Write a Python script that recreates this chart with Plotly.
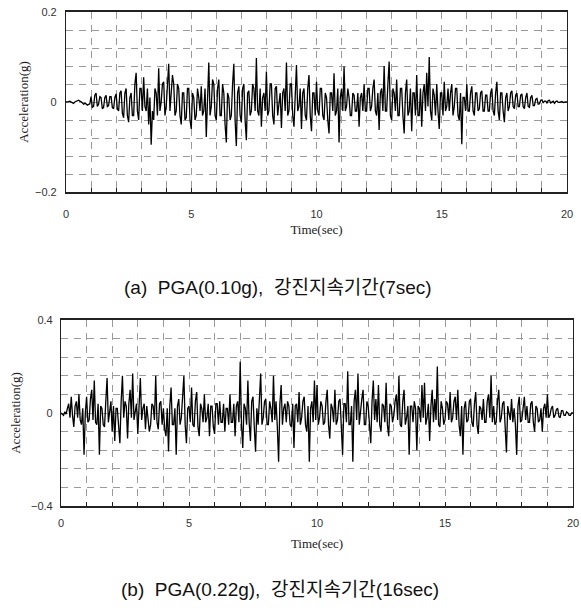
import plotly.graph_objects as go

# time axis (sec), 0.05 s step
time_a = [round(i * 0.05, 2) for i in range(401)]
time_b = [round(i * 0.05, 2) for i in range(401)]

# (a) PGA 0.10g, strong-motion duration 7 sec (g), one row per second
accel_a = [
    0.0, 0.0, 0.001, 0.002, 0.0, -0.002, -0.003, 0.0, 0.002, 0.004, 0.004, 0.002, 0.001, -0.002, -0.005, -0.003, -0.004, -0.007, -0.006, -0.004,
    0.012, -0.012, -0.01, 0.015, 0.02, -0.01, -0.005, 0.012, 0.01, -0.015, -0.012, 0.01, 0.015, -0.01, -0.008, 0.012, 0.012, -0.012, -0.015, 0.01,
    0.018, -0.015, -0.02, 0.02, 0.025, -0.025, -0.035, 0.02, 0.03, -0.03, -0.045, 0.01, 0.02, -0.03, -0.03, 0.04, 0.065, -0.02, -0.04, 0.03,
    0.03, -0.02, 0.055, -0.01, -0.02, 0.03, -0.05, 0.01, -0.095, -0.02, -0.04, 0.03, 0.02, -0.03, 0.075, -0.02, 0.0, 0.04, 0.045, -0.03,
    -0.01, 0.05, 0.085, -0.02, 0.02, 0.06, 0.04, -0.03, -0.02, 0.04, 0.03, -0.03, -0.05, 0.02, 0.02, -0.04, -0.035, 0.03, 0.03, -0.04,
    -0.06, 0.02, 0.01, -0.04, -0.03, 0.03, 0.01, -0.02, 0.035, -0.03, -0.02, 0.03, -0.078, 0.02, 0.088, -0.03, -0.01, 0.05, 0.04, -0.03,
    -0.04, 0.03, 0.05, -0.03, -0.03, 0.04, 0.02, -0.05, -0.09, 0.02, 0.01, -0.04, -0.03, 0.04, 0.085, -0.04, -0.098, 0.02, 0.035, -0.03,
    -0.045, 0.03, 0.04, -0.04, -0.085, 0.02, 0.025, -0.03, -0.02, 0.04, 0.03, -0.02, 0.098, -0.02, -0.03, 0.03, -0.055, 0.01, 0.02, -0.02,
    0.068, -0.03, -0.02, 0.04, 0.04, -0.03, -0.05, 0.03, 0.035, -0.03, -0.01, 0.02, -0.058, 0.02, 0.03, -0.02, 0.088, -0.03, -0.02, 0.04,
    0.04, -0.03, -0.055, 0.03, 0.082, -0.02, -0.01, 0.03, -0.06, 0.02, 0.03, -0.03, -0.04, 0.03, 0.06, -0.03, -0.065, 0.02, 0.02, -0.03,
    0.045, -0.02, -0.03, 0.03, 0.03, -0.03, -0.04, 0.02, 0.01, -0.04, -0.07, 0.02, 0.02, -0.02, 0.064, -0.03, -0.02, 0.03, -0.09, 0.01,
    0.03, -0.02, 0.079, -0.02, -0.01, 0.03, 0.01, -0.03, -0.03, 0.02, 0.015, -0.02, -0.02, 0.02, -0.055, 0.01, 0.02, -0.02, 0.04, -0.02,
    -0.02, 0.03, 0.03, -0.02, -0.01, 0.03, 0.05, -0.02, -0.03, 0.02, -0.062, 0.02, 0.03, -0.02, 0.08, -0.02, -0.02, 0.04, 0.09, -0.03,
    -0.04, 0.03, 0.02, -0.02, 0.05, -0.03, -0.03, 0.03, 0.03, -0.03, -0.07, 0.02, 0.05, -0.03, -0.02, 0.03, -0.065, 0.02, 0.02, -0.03,
    0.06, -0.03, -0.03, 0.03, -0.055, 0.02, 0.04, -0.02, 0.065, -0.01, 0.1, -0.02, -0.04, 0.03, 0.015, -0.03, 0.04, -0.02, -0.06, 0.02,
    0.02, -0.03, 0.045, -0.02, -0.01, 0.03, -0.02, 0.02, 0.04, -0.03, -0.01, 0.03, 0.03, -0.03, -0.04, 0.02, -0.094, 0.01, 0.01, -0.02,
    0.04, -0.02, -0.02, 0.02, 0.035, -0.02, -0.03, 0.02, 0.02, -0.02, -0.015, 0.02, 0.025, -0.02, -0.02, 0.015, 0.015, -0.02, -0.02, 0.02,
    0.03, -0.02, -0.03, 0.02, 0.045, -0.02, -0.04, 0.02, 0.02, -0.02, -0.045, 0.01, 0.02, -0.02, -0.01, 0.02, 0.025, -0.01, -0.015, 0.015,
    0.02, -0.01, -0.01, 0.015, 0.018, -0.01, -0.015, 0.01, 0.02, -0.01, -0.012, 0.01, 0.015, -0.008, -0.008, 0.006, 0.008, -0.005, -0.004, 0.004,
    0.005, -0.002, 0.002, 0.002, -0.002, 0.003, 0.004, -0.002, 0.0, 0.002, -0.003, 0.001, 0.002, -0.001, -0.001, 0.001, 0.001, -0.001, 0.0, 0.0,
    0.0,
]

# (b) PGA 0.22g, strong-motion duration 16 sec (g), one row per second
accel_b = [
    0.0, -0.005, -0.01, 0.005, -0.005, 0.02, 0.04, -0.02, 0.07, -0.01, -0.06, 0.03, 0.05, -0.02, 0.08, -0.03, -0.05, 0.02, -0.18, 0.0,
    0.07, -0.04, -0.03, 0.06, 0.1, -0.03, 0.14, -0.04, -0.05, 0.04, -0.18, 0.03, 0.02, -0.05, -0.06, 0.05, 0.15, -0.04, 0.0, 0.05,
    -0.08, 0.03, -0.12, 0.02, 0.02, -0.06, -0.13, 0.05, 0.16, -0.02, 0.05, 0.03, -0.11, 0.04, 0.1, -0.02, 0.17, -0.03, 0.0, 0.04,
    -0.09, 0.05, 0.15, -0.03, 0.02, 0.04, -0.07, 0.03, -0.02, -0.08, -0.05, 0.04, 0.03, -0.03, 0.16, -0.04, -0.07, 0.04, 0.05, -0.05,
    0.02, -0.07, -0.1, 0.02, -0.165, 0.03, 0.11, -0.05, -0.05, 0.02, -0.18, 0.03, 0.06, -0.05, -0.02, 0.07, 0.16, -0.05, -0.13, 0.02,
    0.03, -0.04, 0.11, -0.05, -0.06, 0.05, 0.09, -0.06, -0.1, 0.04, 0.02, -0.04, 0.08, -0.04, -0.02, 0.04, -0.1, 0.03, 0.03, -0.06,
    -0.09, 0.04, 0.04, -0.05, 0.05, -0.04, -0.04, 0.04, -0.08, 0.02, 0.02, -0.05, 0.08, -0.04, -0.04, 0.04, -0.1, 0.03, 0.05, -0.04,
    0.22, -0.05, -0.15, 0.04, 0.02, -0.05, 0.14, -0.04, -0.12, 0.05, 0.07, -0.06, -0.167, 0.02, -0.05, 0.06, 0.17, -0.05, -0.02, 0.05,
    0.06, -0.05, -0.05, 0.05, 0.02, -0.04, 0.16, -0.03, 0.05, -0.06, -0.21, 0.04, 0.12, -0.05, 0.02, 0.04, -0.04, 0.05, 0.03, -0.05,
    -0.06, 0.04, -0.15, 0.03, 0.04, -0.04, 0.09, -0.05, -0.02, 0.05, 0.07, -0.05, -0.08, 0.03, -0.21, 0.02, 0.05, -0.04, 0.14, -0.03,
    0.12, -0.05, -0.02, 0.05, 0.03, -0.05, -0.04, 0.05, 0.1, -0.05, -0.11, 0.04, 0.02, -0.04, 0.1, -0.05, -0.03, 0.05, 0.06, -0.06,
    -0.18, 0.04, 0.04, -0.04, 0.18, -0.05, -0.05, 0.03, -0.21, 0.05, 0.1, -0.03, 0.17, -0.05, 0.02, 0.06, 0.1, -0.05, -0.05, 0.05,
    0.03, -0.06, -0.13, 0.05, 0.14, -0.03, 0.06, -0.04, 0.12, -0.05, -0.08, 0.04, 0.03, -0.04, 0.13, -0.05, -0.1, 0.04, 0.03, -0.04,
    -0.01, 0.05, 0.08, -0.03, 0.16, -0.05, -0.06, 0.05, 0.1, -0.05, -0.02, 0.03, -0.18, 0.03, 0.03, -0.04, 0.05, 0.02, -0.16, 0.03,
    0.02, -0.04, 0.12, -0.02, 0.13, -0.05, -0.02, 0.04, -0.12, 0.03, 0.1, -0.04, 0.06, -0.03, 0.2, -0.05, -0.06, 0.05, 0.02, -0.05,
    -0.03, 0.05, 0.04, -0.03, 0.09, -0.04, -0.02, 0.05, 0.07, -0.03, 0.1, -0.05, -0.1, 0.03, -0.18, 0.02, 0.05, -0.04, -0.03, 0.05,
    0.06, -0.04, -0.06, 0.04, 0.09, -0.05, -0.09, 0.03, 0.02, -0.03, 0.06, -0.04, -0.04, 0.05, 0.08, -0.02, 0.16, -0.04, 0.03, -0.05,
    -0.04, 0.05, 0.1, -0.04, -0.02, 0.04, 0.05, -0.06, -0.17, 0.03, 0.0, -0.03, 0.06, -0.04, 0.02, -0.05, -0.18, 0.03, 0.07, -0.04,
    -0.03, 0.04, 0.07, -0.03, 0.03, -0.04, -0.04, 0.04, 0.05, -0.04, -0.08, 0.03, 0.02, -0.04, -0.03, 0.02, -0.08, 0.02, 0.04, -0.02,
    0.08, -0.02, -0.01, 0.02, 0.03, -0.02, -0.01, 0.015, 0.02, -0.015, -0.02, 0.01, 0.01, -0.01, -0.01, 0.005, 0.0, -0.01, -0.01, 0.0,
    0.0,
]

x_ticks = [0, 5, 10, 15, 20]
y_ticks_a = [-0.2, 0, 0.2]
y_ticks_b = [-0.4, 0, 0.4]

caption_a = "(a)  PGA(0.10g),  강진지속기간(7sec)"
caption_b = "(b)  PGA(0.22g),  강진지속기간(16sec)"

W, H = 581, 608
fig = go.Figure()
fig.add_trace(go.Scatter(x=time_a, y=accel_a, mode="lines",
                         line=dict(color="#000", width=1.3), xaxis="x", yaxis="y",
                         showlegend=False))
fig.add_trace(go.Scatter(x=time_b, y=accel_b, mode="lines",
                         line=dict(color="#000", width=1.3), xaxis="x2", yaxis="y2",
                         showlegend=False))

tick_font = dict(family="Liberation Sans, Arial, sans-serif", size=11, color="#333")
title_font = dict(family="Liberation Serif, Times New Roman, serif", size=13, color="#222")
cap_font = dict(family="Liberation Sans, Noto Sans CJK KR, sans-serif", size=19, color="#111")
grid_col = "#9a9a9a"
dash = "7px,6px"

def xax(domain, anchor, lab_off, title_off):
    return dict(domain=domain, anchor=anchor, range=[0, 20], tickvals=x_ticks,
                automargin=False, ticklabeloverflow="allow",
                showgrid=True, gridcolor=grid_col, griddash=dash, gridwidth=1,
                minor=dict(dtick=1, showgrid=True, gridcolor=grid_col, griddash=dash,
                           ticks="inside", ticklen=4, tickcolor="#222"),
                ticks="inside", ticklen=4, tickcolor="#222",
                showline=True, linecolor="#222", linewidth=1.5, mirror=True,
                zeroline=False, tickfont=tick_font, ticklabelstandoff=lab_off,
                title=dict(text="Time(sec)", font=title_font, standoff=title_off))

def yax(domain, anchor, rng, ticks, minor_dt, lab_off, title_off):
    return dict(domain=domain, anchor=anchor, range=rng, tickvals=ticks,
                automargin=False, ticklabeloverflow="allow",
                showgrid=True, gridcolor=grid_col, griddash=dash, gridwidth=1,
                minor=dict(dtick=minor_dt, showgrid=True, gridcolor=grid_col, griddash=dash),
                ticks="", showline=True, linecolor="#222", linewidth=1.2, mirror=True,
                zeroline=False, tickfont=tick_font, ticklabelstandoff=lab_off,
                title=dict(text="Acceleration(g)", font=title_font, standoff=title_off))

fig.update_layout(
    width=W, height=H, margin=dict(l=0, r=0, t=0, b=0, autoexpand=False),
    paper_bgcolor="white", plot_bgcolor="white",
    xaxis=xax([66 / W, 567 / W], "y", 11, 6),
    yaxis=yax([1 - 192 / H, 1 - 12 / H], "x", [-0.2, 0.2], y_ticks_a, 0.04, 6, 3),
    xaxis2=xax([61 / W, 573 / W], "y2", 6, 11),
    yaxis2=yax([1 - 506 / H, 1 - 320 / H], "x2", [-0.4, 0.4], y_ticks_b, 0.08, 5, 7),
    annotations=[
        dict(text=caption_a, x=278 / W, y=1 - 288 / H, xref="paper", yref="paper",
             showarrow=False, xanchor="center", yanchor="middle", font=cap_font),
        dict(text=caption_b, x=280 / W, y=1 - 589 / H, xref="paper", yref="paper",
             showarrow=False, xanchor="center", yanchor="middle", font=cap_font),
    ],
)

# remove the default 8 px page margin so the figure fills the window exactly
fig.write_html("out.html", config={"displayModeBar": False},
               post_script="document.body.style.margin='0';")
